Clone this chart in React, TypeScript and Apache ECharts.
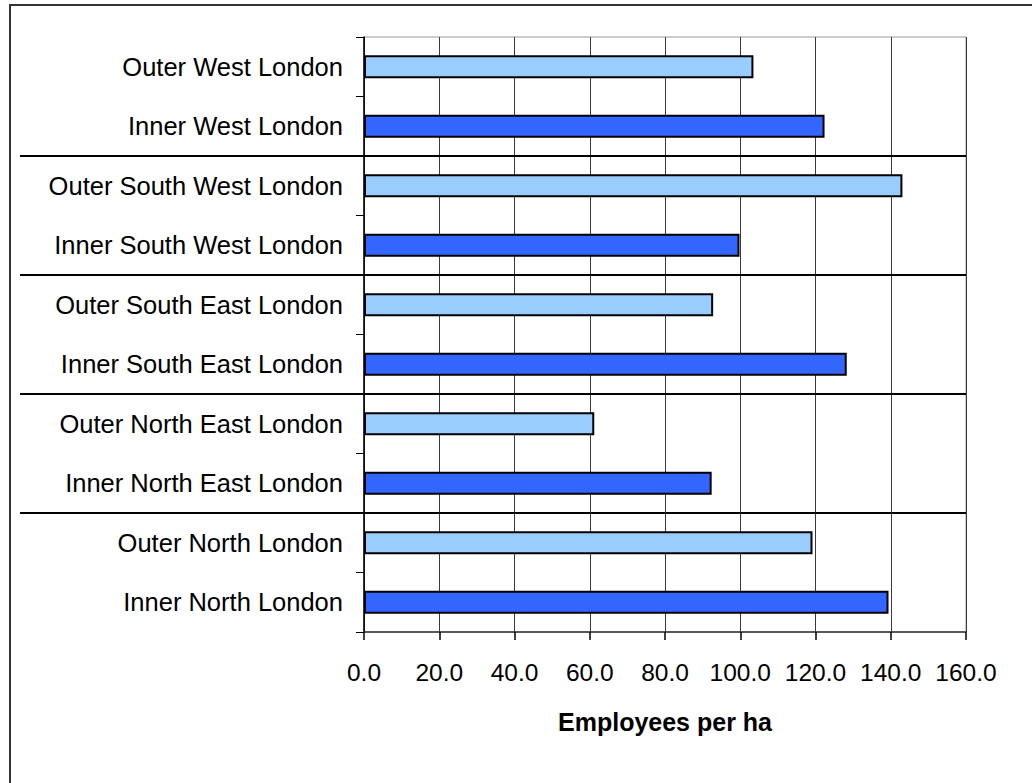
import React, { useEffect, useRef } from "react";
import * as echarts from "echarts";

// Categories listed bottom-to-top (ECharts category y-axis order)
const categories = [
  "Inner North London",
  "Outer North London",
  "Inner North East London",
  "Outer North East London",
  "Inner South East London",
  "Outer South East London",
  "Inner South West London",
  "Outer South West London",
  "Inner West London",
  "Outer West London",
];
const employeesPerHa = [139.4, 119.2, 92.4, 61.2, 128.3, 92.8, 99.8, 143.1, 122.4, 103.5];
const xTicks = { min: 0, max: 160, interval: 20 };
const axisTitle = "Employees per ha";
// group separators lie between these pairs of category indices
const separatorsAfter = [1, 3, 5, 7];

const INNER = "#3366FF";
const OUTER = "#99CCFF";
const FONT = "'Liberation Sans', Arial, sans-serif";

export default function App() {
  const ref = useRef<HTMLDivElement>(null);
  useEffect(() => {
    if (!ref.current) return;
    const chart = echarts.init(ref.current, null, { renderer: "svg" });
    chart.setOption({
      animation: false,
      backgroundColor: "#fff",
      grid: {
        left: 364,
        right: 66,
        top: 37,
        bottom: 151,
        show: true,
        borderColor: "#999",
        borderWidth: 1,
        backgroundColor: "transparent",
      },
      xAxis: {
        type: "value",
        min: xTicks.min,
        max: xTicks.max,
        interval: xTicks.interval,
        name: axisTitle,
        nameLocation: "middle",
        nameGap: 77,
        nameTextStyle: { fontFamily: FONT, fontSize: 25, fontWeight: "bold", color: "#000" },
        axisLine: { show: true, lineStyle: { color: "#333", width: 1.5 } },
        axisTick: { show: true, length: 8, lineStyle: { color: "#000", width: 1.5 } },
        axisLabel: {
          fontFamily: FONT,
          fontSize: 24.5,
          color: "#000",
          margin: 28,
          formatter: (v: number) => v.toFixed(1),
        },
        splitLine: { show: true, lineStyle: { color: "#3a3a3a", width: 1 } },
      },
      yAxis: {
        type: "category",
        data: categories,
        axisLine: { show: true, lineStyle: { color: "#000", width: 1.5 } },
        axisTick: { show: true, length: 8, lineStyle: { color: "#000", width: 1 } },
        axisLabel: { fontFamily: FONT, fontSize: 25.5, color: "#000", margin: 21 },
        splitLine: { show: false },
      },
      series: [
        {
          type: "bar",
          barWidth: 23,
          data: employeesPerHa.map((v, i) => ({
            value: v,
            itemStyle: {
              color: categories[i].startsWith("Inner") ? INNER : OUTER,
              borderColor: "#000",
              borderWidth: 2,
            },
          })),
        },
      ],
    });

    const x0 = 20;
    const x1 = chart.convertToPixel({ xAxisIndex: 0 }, xTicks.max) as number;
    const lines = separatorsAfter.map((i) => {
      const ya = chart.convertToPixel({ yAxisIndex: 0 }, categories[i]) as number;
      const yb = chart.convertToPixel({ yAxisIndex: 0 }, categories[i + 1]) as number;
      const y = (ya + yb) / 2;
      return {
        type: "line",
        shape: { x1: x0, y1: y, x2: x1, y2: y },
        style: { stroke: "#000", lineWidth: 2 },
        z: 10,
      };
    });
    chart.setOption({
      graphic: [
        {
          type: "rect",
          shape: { x: 10, y: 5, width: 1100, height: 900 },
          style: { fill: "none", stroke: "#333", lineWidth: 2 },
          z: 10,
        },
        ...lines,
      ],
    });
    return () => chart.dispose();
  }, []);
  return (
    <div
      ref={ref}
      style={{ position: "absolute", left: 0, top: 0, width: 1032, height: 783 }}
    />
  );
}
